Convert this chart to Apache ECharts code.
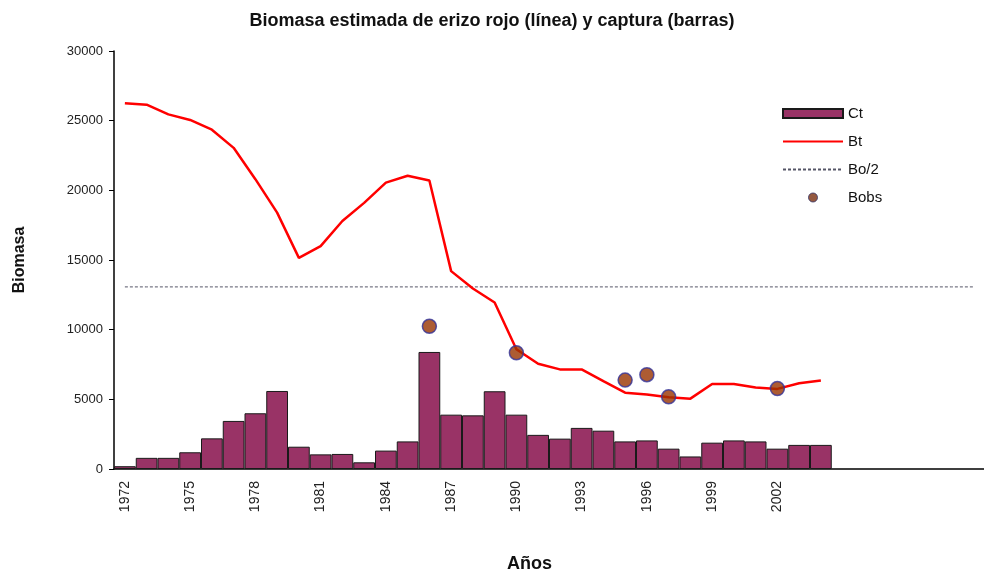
<!DOCTYPE html>
<html>
<head>
<meta charset="utf-8">
<title>Biomasa estimada de erizo rojo</title>
<script src="https://cdn.jsdelivr.net/npm/echarts@6/dist/echarts.min.js"></script>
<style>
  html, body { margin: 0; padding: 0; background: #fff; }
  #chart { width: 984px; height: 574px; }
</style>
</head>
<body>
<div id="chart"></div>
<script>
  // years with data, then empty slots that the original axis keeps
  const years = ['1972', '1973', '1974', '1975', '1976', '1977', '1978', '1979', '1980', '1981',
    '1982', '1983', '1984', '1985', '1986', '1987', '1988', '1989', '1990', '1991',
    '1992', '1993', '1994', '1995', '1996', '1997', '1998', '1999', '2000', '2001',
    '2002', '2003', '2004']
  const emptyYears = ['', '', '', '', '', '', '']

  // captura (barras)
  const ct = [200, 800, 800, 1200, 2200, 3450, 4000, 5600, 1600, 1050,
    1080, 480, 1320, 1980, 8400, 3900, 3850, 5580, 3900, 2450,
    2180, 2950, 2750, 1980, 2050, 1460, 900, 1890, 2050, 1980,
    1460, 1730, 1730]

  // biomasa estimada (linea)
  const bt = [26250, 26150, 25450, 25050, 24350, 23050, 20800, 18400, 15150, 16000,
    17800, 19100, 20550, 21050, 20700, 14200, 12950, 11950, 8600, 7550,
    7150, 7150, 6300, 5480, 5350, 5150, 5050, 6100, 6100, 5850,
    5750, 6150, 6350]

  // Bo/2 reference level
  const boHalf = 13070

  // observed biomass
  const obsYears = ['1986', '1990', '1995', '1996', '1997', '2002']
  const obsValues = [10240, 8340, 6380, 6770, 5180, 5770]

  const categories = years.concat(emptyYears)
  const font = 'Liberation Sans, Arial, sans-serif'
  const noSymbol = { color: 'transparent', borderColor: 'transparent', borderWidth: 0 }

  const chart = echarts.init(document.getElementById('chart'))
  chart.setOption({
    animation: false,
    backgroundColor: '#fff',
    textStyle: { fontFamily: font },
    title: [
      {
        text: 'Biomasa estimada de erizo rojo (línea) y captura (barras)',
        left: 'center',
        top: 7,
        textStyle: { fontSize: 18, fontWeight: 'bold', color: '#111', fontFamily: font }
      },
      {
        text: 'Años',
        left: 502,
        top: 550,
        textStyle: { fontSize: 18, fontWeight: 'bold', color: '#111', fontFamily: font }
      }
    ],
    legend: {
      orient: 'vertical',
      left: 777,
      top: 101,
      itemWidth: 60,
      itemHeight: 9,
      itemGap: 13,
      data: [
        { name: 'Ct', icon: 'rect' },
        { name: 'Bt', itemStyle: noSymbol },
        { name: 'Bo/2', itemStyle: noSymbol },
        { name: 'Bobs', itemStyle: { color: '#7a3010', borderColor: '#333366', borderWidth: 1 } }
      ],
      textStyle: { fontSize: 15, color: '#111', fontFamily: font }
    },
    grid: {
      left: 114,
      right: -5,
      top: 51,
      bottom: 105
    },
    xAxis: {
      type: 'category',
      data: categories,
      boundaryGap: true,
      axisLine: { lineStyle: { color: '#000', width: 1.5 } },
      axisTick: { interval: 0, length: 5, lineStyle: { color: '#000' } },
      axisLabel: {
        interval: 2,
        rotate: 90,
        fontSize: 14,
        color: '#222',
        margin: 12
      },
      splitLine: { show: false }
    },
    yAxis: {
      type: 'value',
      min: 0,
      max: 30000,
      interval: 5000,
      name: 'Biomasa',
      nameLocation: 'middle',
      nameGap: 86,
      nameTextStyle: { fontSize: 16, fontWeight: 'bold', color: '#111' },
      axisLine: { show: true, lineStyle: { color: '#000', width: 1.5 } },
      axisTick: { show: true, inside: false, length: 5, lineStyle: { color: '#000' } },
      axisLabel: { fontSize: 13, color: '#222', margin: 11, formatter: (v) => String(v) },
      splitLine: { show: false }
    },
    series: [
      {
        name: 'Ct',
        type: 'bar',
        data: ct,
        barCategoryGap: 0,
        itemStyle: { color: '#993366', borderColor: '#1a1a1a', borderWidth: 1 },
        z: 1
      },
      {
        name: 'Bt',
        type: 'line',
        data: bt,
        symbol: 'none',
        lineStyle: { color: '#ff0000', width: 2.5 },
        itemStyle: { color: '#ff0000' },
        z: 3
      },
      {
        name: 'Bo/2',
        type: 'line',
        data: categories.map(() => boHalf),
        symbol: 'none',
        lineStyle: { color: '#555566', width: 1, type: [3, 2] },
        itemStyle: { color: '#333366' },
        z: 2
      },
      {
        name: 'Bobs',
        type: 'scatter',
        data: obsYears.map((y, i) => [y, obsValues[i]]),
        symbolSize: 14,
        itemStyle: { color: '#993300', borderColor: '#333399', borderWidth: 1.5 },
        z: 4
      }
    ]
  })
</script>
</body>
</html>
